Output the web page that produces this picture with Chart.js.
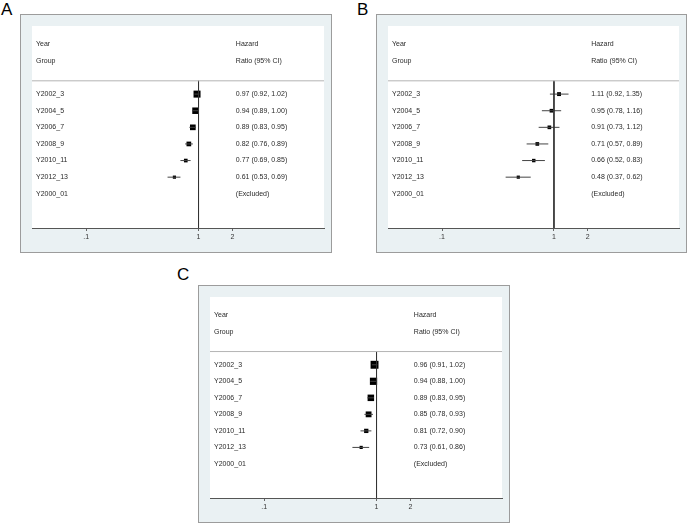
<!DOCTYPE html>
<html>
<head>
<meta charset="utf-8">
<script src="https://cdn.jsdelivr.net/npm/chart.js@4/dist/chart.umd.min.js"></script>
<style>
  body { margin: 0; background: #fff; width: 689px; height: 524px; position: relative; overflow: hidden; }
  .panel { position: absolute; background: #eaf1f3; border: 1px solid #9c9c9c; }
  .panel canvas { display: block; }
  .tag { position: absolute; font: 17px "Liberation Sans", Arial, sans-serif; line-height: 17px; color: #000; }
</style>
</head>
<body>
<div class="tag" style="left:1px;top:1px">A</div>
<div class="tag" style="left:357px;top:1px">B</div>
<div class="tag" style="left:177px;top:266px">C</div>
<div class="panel" style="left:20px;top:14px;width:310px;height:237px"><canvas id="chartA" width="310" height="237"></canvas></div>
<div class="panel" style="left:376px;top:14px;width:309px;height:237px"><canvas id="chartB" width="309" height="237"></canvas></div>
<div class="panel" style="left:198px;top:285px;width:310px;height:236px"><canvas id="chartC" width="310" height="236"></canvas></div>
<script>
// Year groups (Y2000_01 is the reference group)
const groups = ["Y2002_3", "Y2004_5", "Y2006_7", "Y2008_9", "Y2010_11", "Y2012_13"];
const refGroup = "Y2000_01";
const xTicks = [0.1, 1, 2];

// Panel A
const hrA = [0.97, 0.94, 0.89, 0.82, 0.77, 0.61];
const loA = [0.92, 0.89, 0.83, 0.76, 0.69, 0.53];
const hiA = [1.02, 1.00, 0.95, 0.89, 0.85, 0.69];
const weightsA = [29, 25, 19, 13, 8, 6];

// Panel B
const hrB = [1.11, 0.95, 0.91, 0.71, 0.66, 0.48];
const loB = [0.92, 0.78, 0.73, 0.57, 0.52, 0.37];
const hiB = [1.35, 1.16, 1.12, 0.89, 0.83, 0.62];
const weightsB = [9, 8, 8, 8, 7, 6];

// Panel C
const hrC = [0.96, 0.94, 0.89, 0.85, 0.81, 0.73];
const loC = [0.91, 0.88, 0.83, 0.78, 0.72, 0.61];
const hiC = [1.02, 1.00, 0.95, 0.93, 0.90, 0.86];
const weightsC = [37, 31, 25, 20, 11, 6];

const X_MIN = 0.0329, X_MAX = 13.1;
const Y_TOP = -4.1, Y_BOTTOM = 8.06;
const SEP_ROW = -0.8;
const FONT = '7px "Liberation Sans", Arial, sans-serif';

const tablePlugin = {
    id: 'table',
    beforeDraw(chart) {
        const a = chart.chartArea;
        const ctx = chart.ctx;
        ctx.save();
        ctx.fillStyle = '#ffffff';
        ctx.fillRect(a.left, a.top, a.right - a.left, a.bottom - a.top);
        ctx.restore();
    },
    afterDatasetsDraw(chart, args, opts) {
        const ctx = chart.ctx;
        const xs = chart.scales.x, ys = chart.scales.y;
        const left = chart.chartArea.left + 4;
        const right = xs.getPixelForValue(2.15);
        ctx.save();
        ctx.font = FONT;
        ctx.fillStyle = '#2a2a2a';
        ctx.textBaseline = 'middle';
        ctx.fillText('Year', left, ys.getPixelForValue(-3));
        ctx.fillText('Group', left, ys.getPixelForValue(-2));
        ctx.fillText('Hazard', right, ys.getPixelForValue(-3));
        ctx.fillText('Ratio (95% CI)', right, ys.getPixelForValue(-2));
        groups.forEach((g, i) => {
            const y = ys.getPixelForValue(i);
            ctx.fillText(g, left, y);
            ctx.fillText(opts.hr[i].toFixed(2) + ' (' + opts.lo[i].toFixed(2) + ', ' + opts.hi[i].toFixed(2) + ')', right, y);
        });
        const yr = ys.getPixelForValue(groups.length);
        ctx.fillText(refGroup, left, yr);
        ctx.fillText('(Excluded)', right, yr);
        ctx.restore();
    }
};

function makeForest(id, hr, lo, hi, weights) {
    const datasets = [];
    // separator under the header
    datasets.push({
        type: 'line',
        data: [{ x: X_MIN, y: SEP_ROW }, { x: X_MAX, y: SEP_ROW }],
        borderColor: '#b4b4b4', borderWidth: 1, pointRadius: 0
    });
    // null line at HR = 1
    datasets.push({
        type: 'line',
        data: [{ x: 1, y: SEP_ROW }, { x: 1, y: Y_BOTTOM }],
        borderColor: '#333', borderWidth: 1, pointRadius: 0
    });
    // confidence intervals
    hr.forEach((v, i) => {
        datasets.push({
            type: 'line',
            data: [{ x: lo[i], y: i }, { x: hi[i], y: i }],
            borderColor: '#444', borderWidth: 1, pointRadius: 0
        });
    });
    // point estimates, box size from weight
    datasets.push({
        type: 'scatter',
        data: hr.map((v, i) => ({ x: v, y: i })),
        pointStyle: 'rect',
        pointRadius: weights.map(w => Math.sqrt(w) * 1.3 / Math.SQRT2),
        backgroundColor: '#000', borderColor: '#000', borderWidth: 0
    });

    new Chart(document.getElementById(id), {
        type: 'scatter',
        data: { datasets: datasets },
        options: {
            responsive: false,
            animation: false,
            devicePixelRatio: 1,
            layout: { padding: { left: 11, right: 7, top: 11, bottom: 0 } },
            plugins: {
                legend: { display: false },
                tooltip: { enabled: false },
                table: { hr: hr, lo: lo, hi: hi }
            },
            scales: {
                x: {
                    type: 'logarithmic',
                    min: X_MIN,
                    max: X_MAX,
                    afterBuildTicks: s => { s.ticks = xTicks.map(v => ({ value: v })); },
                    afterFit: s => { s.height = 24; },
                    ticks: {
                        color: '#333',
                        font: { family: '"Liberation Sans", Arial, sans-serif', size: 7 },
                        padding: 2,
                        maxRotation: 0,
                        autoSkip: false,
                        callback: v => v === 0.1 ? '.1' : String(v)
                    },
                    grid: { display: true, drawOnChartArea: false, drawTicks: true, tickLength: 3, color: '#666' },
                    border: { display: true, color: '#555', width: 1 }
                },
                y: {
                    type: 'linear',
                    reverse: true,
                    min: Y_TOP,
                    max: Y_BOTTOM,
                    display: false
                }
            }
        },
        plugins: [tablePlugin]
    });
}

makeForest('chartA', hrA, loA, hiA, weightsA);
makeForest('chartB', hrB, loB, hiB, weightsB);
makeForest('chartC', hrC, loC, hiC, weightsC);
</script>
</body>
</html>
